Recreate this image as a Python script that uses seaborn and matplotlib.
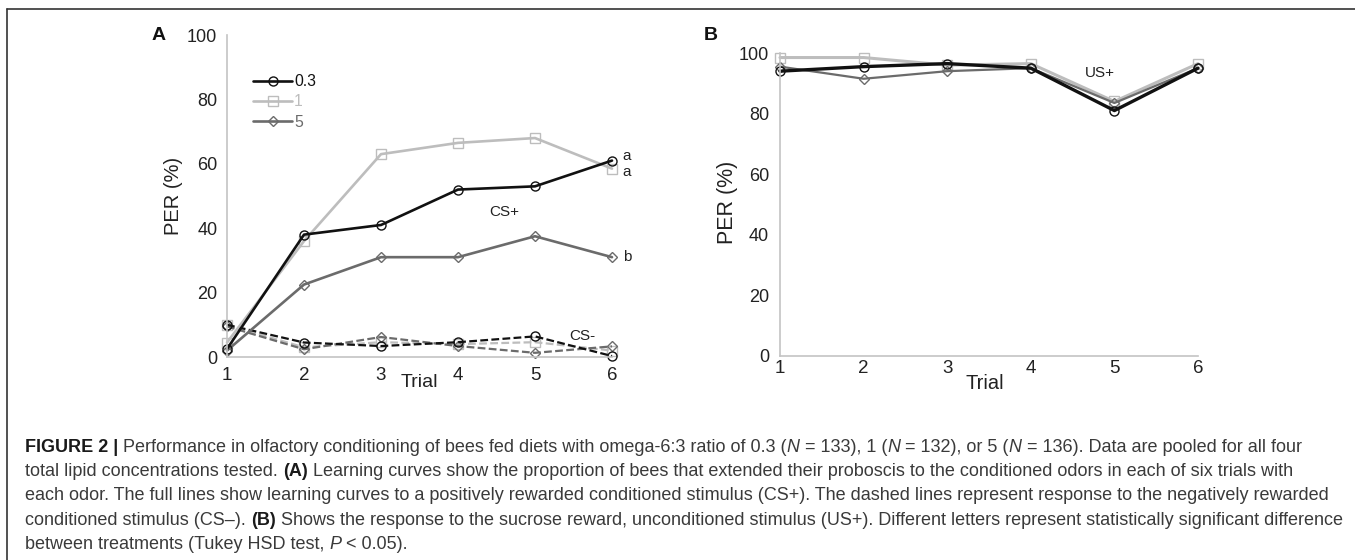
import numpy as np
import pandas as pd
import matplotlib
matplotlib.use('Agg')
import matplotlib.pyplot as plt
import seaborn as sns
from matplotlib.lines import Line2D

# data
trials = [1, 2, 3, 4, 5, 6]
diet_labels = ['0.3', '1', '5']

cs_plus_03 = [2.5, 38, 41, 52, 53, 61]
cs_plus_1 = [4.5, 36, 63, 66.5, 68, 58.5]
cs_plus_5 = [2, 22.5, 31, 31, 37.5, 31]

cs_minus_03 = [10, 4.5, 3.4, 4.6, 6.4, 0.3]
cs_minus_1 = [10, 3, 4.6, 4, 4.6, 2]
cs_minus_5 = [9.5, 2.4, 6.2, 3.4, 1.3, 3.3]

us_plus_03 = [94, 95.5, 96.5, 95, 81, 95]
us_plus_1 = [98.5, 98.5, 96, 96.5, 84, 96.5]
us_plus_5 = [95.5, 91.5, 94, 95, 83.5, 95]

colors = {'0.3': '#111111', '1': '#bdbdbd', '5': '#6b6b6b'}
markers = {'0.3': 'o', '1': 's', '5': 'D'}
msizes = {'0.3': 6.5, '1': 6.5, '5': 4.8}

sns.set_theme(style='white')
plt.rcParams['font.family'] = ['Liberation Sans', 'DejaVu Sans']

fig = plt.figure(figsize=(13.55, 5.6), dpi=100)
axA = fig.add_axes([227 / 1355, 203 / 560, 385 / 1355, 322 / 560])
axB = fig.add_axes([780 / 1355, 204 / 560, 418 / 1355, 303 / 560])


def draw(ax, ys, diet, lw, ls='-'):
    df = pd.DataFrame({'Trial': trials, 'PER': ys})
    c = colors[diet]
    sns.lineplot(data=df, x='Trial', y='PER', ax=ax, color=c, linewidth=lw,
                 linestyle=ls, marker=markers[diet], markersize=msizes[diet],
                 markerfacecolor='none', markeredgecolor=c, markeredgewidth=1,
                 legend=False, clip_on=False)


# Panel A: CS- dashed, then CS+ solid
for diet, ys in zip(['1', '5', '0.3'], [cs_minus_1, cs_minus_5, cs_minus_03]):
    draw(axA, ys, diet, 1.6, ls=(0, (3.5, 1.5)))
for diet, ys in zip(['1', '5', '0.3'], [cs_plus_1, cs_plus_5, cs_plus_03]):
    draw(axA, ys, diet, 1.9)

# Panel B: US+
for diet, ys, lw in zip(['1', '5', '0.3'], [us_plus_1, us_plus_5, us_plus_03], [2.2, 1.6, 2.4]):
    draw(axB, ys, diet, lw)

tick_col = '#222222'
for ax, xsz, ysz in [(axA, 13.5, 13), (axB, 13.5, 13)]:
    ax.set_xlim(1, 6)
    ax.set_ylim(0, 100)
    ax.set_xticks(trials)
    ax.set_yticks([0, 20, 40, 60, 80, 100])
    for s in ['top', 'right']:
        ax.spines[s].set_visible(False)
    for s in ['left', 'bottom']:
        ax.spines[s].set_color('#c4c4c4')
        ax.spines[s].set_linewidth(1.2)
    ax.tick_params(length=0, labelcolor=tick_col)
    ax.tick_params(axis='x', labelsize=xsz)
    ax.tick_params(axis='y', labelsize=ysz)
    ax.set_facecolor('none')

axA.tick_params(axis='x', pad=7)
axA.tick_params(axis='y', pad=7)
axB.tick_params(axis='x', pad=3)
axB.tick_params(axis='y', pad=8)

axA.set_xlabel('Trial', fontsize=14, color=tick_col, va='center')
axA.xaxis.set_label_coords(0.5, -0.08)
axA.set_ylabel('PER (%)', fontsize=14.5, color=tick_col, va='center')
axA.yaxis.set_label_coords(-0.14, 0.5)
axB.set_xlabel('Trial', fontsize=14.5, color=tick_col, va='center')
axB.xaxis.set_label_coords(0.49, -0.09)
axB.set_ylabel('PER (%)', fontsize=15.5, color=tick_col, va='center')
axB.yaxis.set_label_coords(-0.125, 0.507)

# legend (solid lines only)
handles = [Line2D([], [], color=colors[d], lw=1.9, marker=markers[d],
                  markersize=msizes[d], markerfacecolor='none',
                  markeredgecolor=colors[d], markeredgewidth=1) for d in diet_labels]
axA.legend(handles, diet_labels, loc='upper left', bbox_to_anchor=(0.068, 0.878),
           frameon=False, fontsize=11.3, handlelength=2.5, handletextpad=0.1,
           labelspacing=0.33, borderpad=0, borderaxespad=0, labelcolor='linecolor')

# annotations
axA.text(4.6, 45, 'CS+', fontsize=11, ha='center', va='center', color=tick_col)
axA.text(5.62, 6.5, 'CS-', fontsize=11, ha='center', va='center', color=tick_col)
axA.text(6.14, 62.5, 'a', fontsize=11, ha='left', va='center', color=tick_col)
axA.text(6.14, 57.5, 'a', fontsize=11, ha='left', va='center', color=tick_col)
axA.text(6.14, 31, 'b', fontsize=11, ha='left', va='center', color=tick_col)
axB.text(4.83, 93.4, 'US+', fontsize=11, ha='center', va='center', color=tick_col)

fig.text(159 / 1355, 1 - 35 / 560, 'A', fontsize=14, weight='bold', ha='center', va='center', color='#111111')
fig.text(711 / 1355, 1 - 36 / 560, 'B', fontsize=14, weight='bold', ha='center', va='center', color='#111111')

# frame around the figure panel
fig.add_artist(Line2D([7.5 / 1355, 7.5 / 1355], [0, 1 - 9 / 560], color='#333333', lw=1.2))
fig.add_artist(Line2D([7.5 / 1355, 1], [1 - 9 / 560, 1 - 9 / 560], color='#333333', lw=1.2))

# caption with mixed styles
cap_col = '#3a3a3a'
B, I, R = 'bold', 'italic', 'normal'
caption = [
    [('FIGURE 2 | ', B), ('Performance in olfactory conditioning of bees fed diets with omega-6:3 ratio of 0.3 (', R),
     ('N', I), (' = 133), 1 (', R), ('N', I), (' = 132), or 5 (', R), ('N', I),
     (' = 136). Data are pooled for all four', R)],
    [('total lipid concentrations tested. ', R), ('(A)', B),
     (' Learning curves show the proportion of bees that extended their proboscis to the conditioned odors in each of six trials with', R)],
    [('each odor. The full lines show learning curves to a positively rewarded conditioned stimulus (CS+). The dashed lines represent response to the negatively rewarded', R)],
    [('conditioned stimulus (CS\u2013). ', R), ('(B)', B),
     (' Shows the response to the sucrose reward, unconditioned stimulus (US+). Different letters represent statistically significant difference', R)],
    [('between treatments (Tukey HSD test, ', R), ('P', I), (' < 0.05).', R)],
]
baselines = [452, 476.5, 500.5, 525, 549]
renderer = fig.canvas.get_renderer()
cap_size = 13
for segs, yb in zip(caption, baselines):
    x = 25
    for txt, sty in segs:
        kw = dict(fontsize=cap_size, va='baseline', ha='left')
        if sty == B:
            kw.update(weight='bold', color='#1a1a1a')
        elif sty == I:
            kw.update(style='italic', color=cap_col)
        else:
            kw.update(color=cap_col)
        t = fig.text(x / 1355, 1 - yb / 560, txt, **kw)
        bb = t.get_window_extent(renderer)
        x += bb.width

fig.savefig('out.png', dpi=100)
